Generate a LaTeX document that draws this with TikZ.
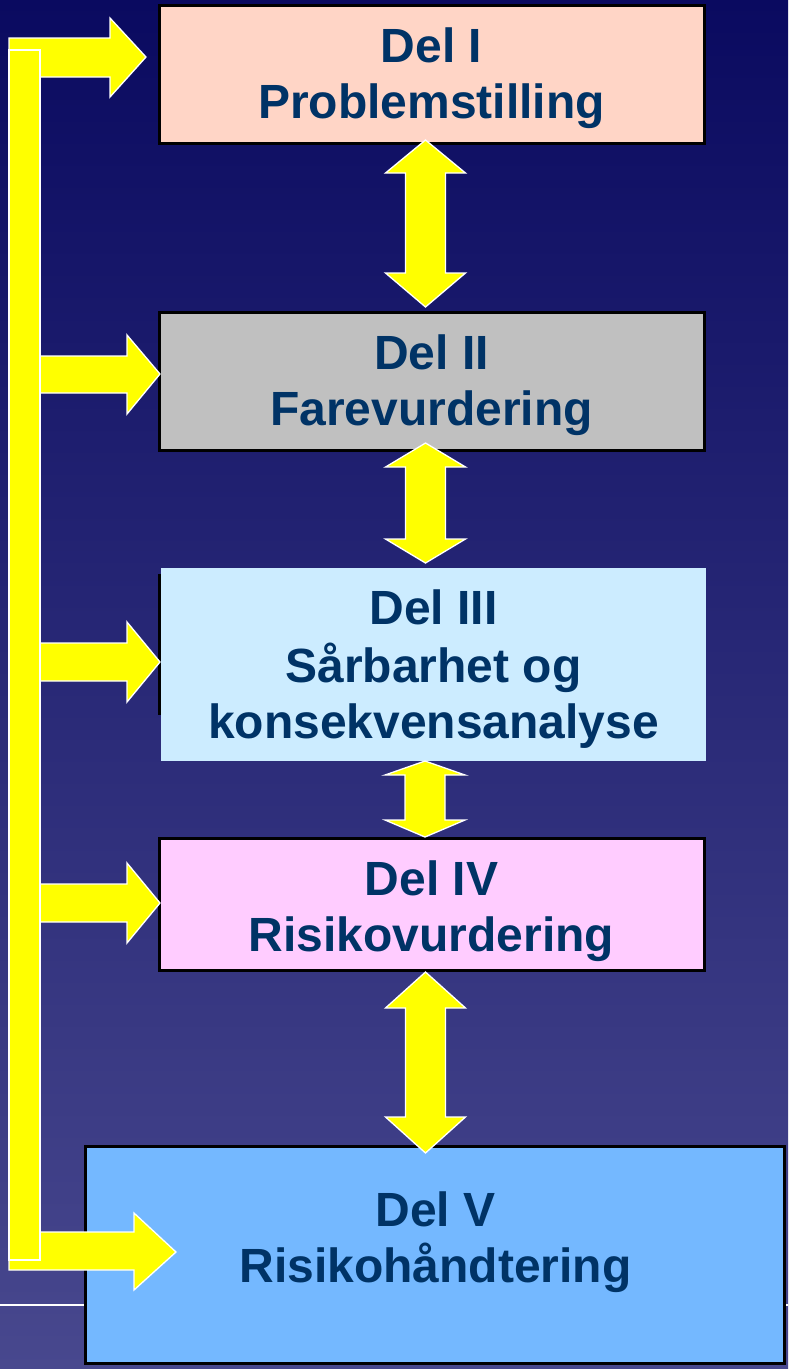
\documentclass[tikz,border=0pt]{standalone}
\usepackage{fontspec}
\setmainfont{Liberation Sans}
\definecolor{bgtop}{RGB}{10,10,96}
\definecolor{bgbot}{RGB}{72,72,142}
\definecolor{txtc}{HTML}{003366}
\definecolor{arrowyel}{RGB}{255,255,0}
\definecolor{cI}{RGB}{255,213,198}
\definecolor{cII}{RGB}{192,192,192}
\definecolor{cIII}{RGB}{204,236,255}
\definecolor{cIV}{RGB}{255,204,255}
\definecolor{cV}{RGB}{116,184,255}
\newcommand{\dblarrow}[5]{% x, ytop tip, ytop base, ybot base, ybot tip
  \draw[yarrow] (#1,#2) -- (#1+40,#3) -- (#1+20,#3) -- (#1+20,#4) -- (#1+40,#4) -- (#1,#5)
    -- (#1-40,#4) -- (#1-20,#4) -- (#1-20,#3) -- (#1-40,#3) -- cycle;}
\begin{document}
\begin{tikzpicture}[x=1pt,y=-1pt,
  box/.style={draw=black,line width=3pt,anchor=north west,inner sep=0pt,outer sep=0pt},
  lbl/.style={text=txtc,font=\fontsize{48}{57}\selectfont\bfseries,anchor=base,inner sep=0pt},
  yarrow/.style={fill=arrowyel,draw=white,line width=1.3pt,line join=miter}]
\useasboundingbox (0,0) rectangle (788,1369);
\shade[top color=bgtop,bottom color=bgbot] (0,0) rectangle (788,1369);
\draw[white,line width=2pt] (0,1305) -- (788,1305);

% boxes
\node[box,fill=cI,minimum width=545pt,minimum height=138pt] (b1) at (159,5) {};
\node[box,fill=cII,minimum width=545pt,minimum height=138pt] (b2) at (159,312) {};
\node[box,fill=cIII,minimum width=545pt,minimum height=138pt] (b3back) at (159,575) {};
\fill[cIII] (161,568) rectangle (706,761);
\node[box,fill=cIV,minimum width=545pt,minimum height=132pt] (b4) at (159,838) {};
\node[box,fill=cV,minimum width=699pt,minimum height=217pt] (b5) at (85,1146) {};

% texts
\node[lbl] (t1a) at (431.5,62) {Del I};
\node[lbl] (t1b) at (431.5,118) {Problemstilling};
\node[lbl] (t2a) at (431.5,369) {Del II};
\node[lbl] (t2b) at (431.5,425) {Farevurdering};
\node[lbl] (t3a) at (433.5,624) {Del III};
\node[lbl] (t3b) at (433.5,682) {Sårbarhet og};
\node[lbl] (t3c) at (433.5,738) {konsekvensanalyse};
\node[lbl] (t4a) at (431.5,895) {Del IV};
\node[lbl] (t4b) at (431.5,951) {Risikovurdering};
\node[lbl] (t5a) at (435.5,1226) {Del V};
\node[lbl] (t5b) at (435.5,1282) {Risikohåndtering};

% vertical double arrows
\dblarrow{425.5}{140}{173}{273}{307}
\dblarrow{425.5}{443}{467}{539}{563}
\dblarrow{425}{761}{775}{820}{837}
\dblarrow{425.5}{972}{1008}{1117}{1153}

% side arrows
\draw[yarrow] (9,38) -- (110,38) -- (110,18) -- (146,57) -- (110,97) -- (110,77) -- (9,77) -- cycle;
\draw[yarrow] (30,356) -- (127,356) -- (127,335) -- (160,374) -- (127,414) -- (127,393) -- (30,393) -- cycle;
\draw[yarrow] (30,643) -- (127,643) -- (127,622) -- (160,662) -- (127,702) -- (127,681) -- (30,681) -- cycle;
\draw[yarrow] (30,884) -- (127,884) -- (127,863) -- (160,903) -- (127,943) -- (127,922) -- (30,922) -- cycle;
\draw[yarrow] (9,1232) -- (134,1232) -- (134,1213) -- (176,1252) -- (134,1290) -- (134,1270) -- (9,1270) -- cycle;

% vertical bar
\draw[yarrow] (9,50) rectangle (40,1260);
\end{tikzpicture}
\end{document}
